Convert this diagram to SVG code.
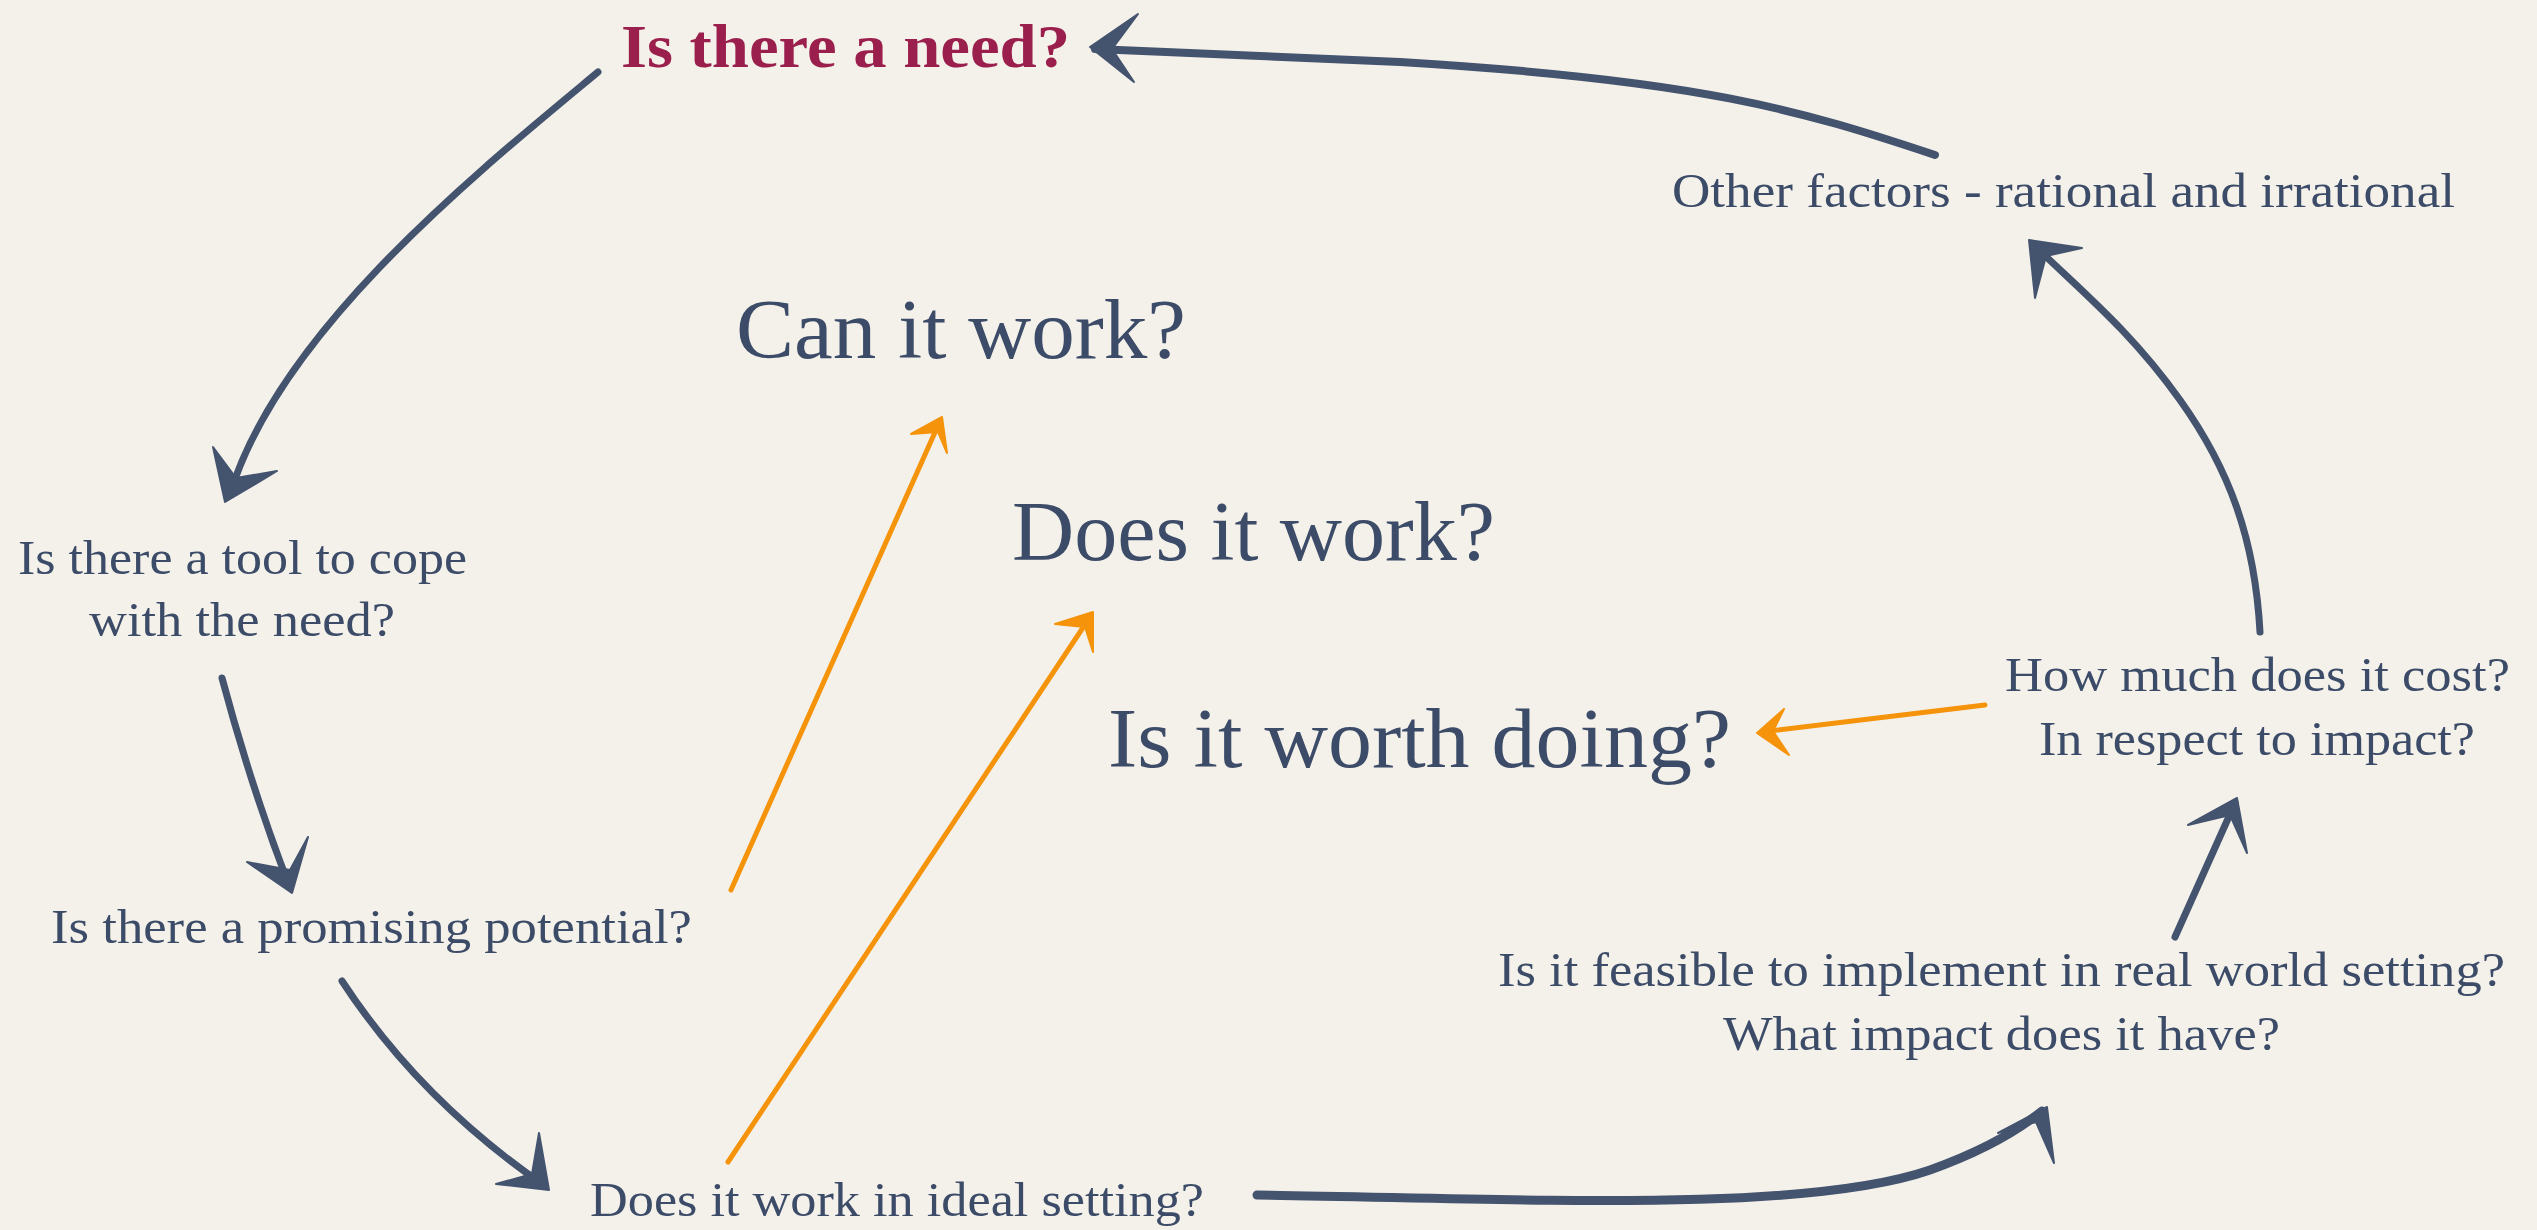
<svg xmlns="http://www.w3.org/2000/svg" width="2537" height="1230" viewBox="0 0 2537 1230">
<style>
.t{font-family:"Liberation Serif","DejaVu Serif",serif;fill:#3C4C68;}
.s{font-size:48px;}
.b{font-size:84px;}
.need{font-size:62px;font-weight:bold;fill:#9A1F4C;}
.ln{fill:none;stroke:#44536E;stroke-width:7;stroke-linecap:round;stroke-linejoin:round;}
.or{fill:none;stroke:#F5930A;stroke-width:5;stroke-linecap:round;}
.ah{fill:#44536E;stroke:#44536E;stroke-width:2;stroke-linejoin:round;}
.oh{fill:#F5930A;stroke:#F5930A;stroke-width:2;stroke-linejoin:round;}
</style>
<rect width="2537" height="1230" fill="#F4F1EA"/>
<g id="connectors">
<path class="ln" d="M598,72 C480,170 280,330 230,494"/>
<path class="ah" d="M213,447 L225,502 L277,471 L236,478 Z"/>
<path class="ln" d="M222,678 Q252,790 290,888"/>
<path class="ah" d="M247,862 L292,893 L308,837 L290,870 Z"/>
<path class="ln" d="M342,981 Q420,1100 545,1186"/>
<path class="ah" d="M496,1184 L549,1190 L539,1133 L532,1174 Z"/>
<path class="or" d="M731,890 L940,421"/>
<path class="oh" d="M911,434 L942,417 L947,453 L938,432 Z"/>
<path class="or" d="M728,1162 L1090,617"/>
<path class="oh" d="M1055,624 L1093,612 L1093,652 L1085,627 Z"/>
<path class="ln" d="M1257,1195 C1500,1198 1800,1215 1930,1170 Q2000,1145 2042,1111" style="stroke-width:9"/>
<path class="ah" d="M1998,1133 L2047,1107 L2054,1163 L2036,1122 Z"/>
<path class="ln" d="M2175,937 L2235,803"/>
<path class="ah" d="M2188,825 L2237,798 L2247,853 L2230,815 Z"/>
<path class="or" d="M1985,705 L1762,732"/>
<path class="oh" d="M1784,709 L1757,733 L1789,755 L1773,731 Z"/>
<path class="ln" d="M2260,632 C2255,540 2230,470 2180,400 S2080,290 2034,245"/>
<path class="ah" d="M2035,298 L2029,240 L2082,248 L2046,256 Z"/>
<path class="ln" d="M1935,155 C1800,110 1700,80 1400,62 L1095,49" style="stroke-width:8"/>
<path class="ah" d="M1138,14 L1090,47 L1134,82 L1112,49 Z"/>
</g>
<g id="n-need"><text class="t need" x="621" y="67" textLength="449" lengthAdjust="spacingAndGlyphs">Is there a need?</text></g>
<g id="n-tool"><text class="t s" x="18" y="574" textLength="449" lengthAdjust="spacingAndGlyphs">Is there a tool to cope</text><text class="t s" x="89" y="636" textLength="306" lengthAdjust="spacingAndGlyphs">with the need?</text></g>
<g id="n-promising"><text class="t s" x="51" y="943" textLength="641" lengthAdjust="spacingAndGlyphs">Is there a promising potential?</text></g>
<g id="n-ideal"><text class="t s" x="590" y="1216" textLength="614" lengthAdjust="spacingAndGlyphs">Does it work in ideal setting?</text></g>
<g id="n-feasible"><text class="t s" x="1498" y="986" textLength="1007" lengthAdjust="spacingAndGlyphs">Is it feasible to implement in real world setting?</text><text class="t s" x="1723" y="1050" textLength="557" lengthAdjust="spacingAndGlyphs">What impact does it have?</text></g>
<g id="n-cost"><text class="t s" x="2005" y="691" textLength="505" lengthAdjust="spacingAndGlyphs">How much does it cost?</text><text class="t s" x="2039" y="755" textLength="436" lengthAdjust="spacingAndGlyphs">In respect to impact?</text></g>
<g id="n-other"><text class="t s" x="1672" y="207" textLength="783" lengthAdjust="spacingAndGlyphs">Other factors - rational and irrational</text></g>
<g id="n-can"><text class="t b" x="736" y="358" textLength="450" lengthAdjust="spacingAndGlyphs">Can it work?</text></g>
<g id="n-does"><text class="t b" x="1012" y="560" textLength="483" lengthAdjust="spacingAndGlyphs">Does it work?</text></g>
<g id="n-worth"><text class="t b" x="1108" y="767" textLength="623" lengthAdjust="spacingAndGlyphs">Is it worth doing?</text></g>
</svg>
